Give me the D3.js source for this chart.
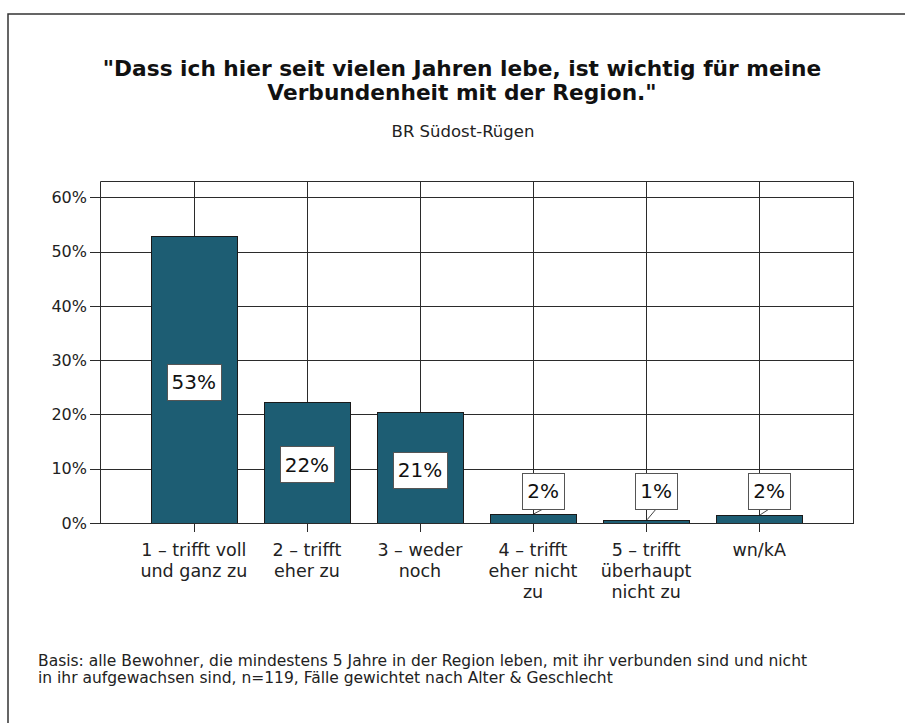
<!DOCTYPE html>
<html>
<head>
<meta charset="utf-8">
<script src="https://cdn.jsdelivr.net/npm/d3@7"></script>
<style>
  body { margin: 0; background: #fff; }
  svg { display: block; font-family: "DejaVu Sans", Lato, sans-serif; }
</style>
</head>
<body>
<svg id="chart" width="905" height="723"></svg>
<script>
// data
const categories = ["c1", "c2", "c3", "c4", "c5", "wn"];
const categoryLines = [
  ["1 – trifft voll", "und ganz zu"],
  ["2 – trifft", "eher zu"],
  ["3 – weder", "noch"],
  ["4 – trifft", "eher nicht", "zu"],
  ["5 – trifft", "überhaupt", "nicht zu"],
  ["wn/kA"]
];
const values = [0.528, 0.223, 0.204, 0.017, 0.006, 0.015];
const valueLabels = ["53%", "22%", "21%", "2%", "1%", "2%"];
const yTicks = [0, 0.1, 0.2, 0.3, 0.4, 0.5, 0.6];
const titleLines = ["\"Dass ich hier seit vielen Jahren lebe, ist wichtig für meine", "Verbundenheit mit der Region.\""];
const subtitle = "BR Südost-Rügen";
const footLines = [
  "Basis: alle Bewohner, die mindestens 5 Jahre in der Region leben, mit ihr verbunden sind und nicht",
  "in ihr aufgewachsen sind, n=119, Fälle gewichtet nach Alter & Geschlecht"
];

const svg = d3.select("#chart");
const BAR = "#1d5d73";
const LINE = "#2b2b2b";

// outer frame (runs off the right and bottom of the picture)
svg.append("rect")
  .attr("x", 8).attr("y", 14).attr("width", 1000).attr("height", 800)
  .attr("fill", "none").attr("stroke", "#333").attr("stroke-width", 1.5);

svg.append("g").selectAll("text")
  .data(titleLines).join("text")
    .attr("x", 462).attr("y", (d, i) => 76 + i * 24)
    .attr("text-anchor", "middle")
    .attr("font-size", 21.7).attr("font-weight", "bold").attr("fill", "#111")
    .text(d => d);

svg.append("text")
  .attr("x", 463).attr("y", 137)
  .attr("text-anchor", "middle").attr("font-size", 16.5).attr("fill", "#222")
  .text(subtitle);

const pLeft = 100, pRight = 853, pTop = 181, pBottom = 523;

const x = d3.scaleBand()
  .domain(categories)
  .range([pLeft, pRight])
  .paddingInner(0.24)
  .paddingOuter(0.45);

const y = d3.scaleLinear()
  .domain([0, 0.63])
  .range([pBottom, pTop]);

const plot = svg.append("g");

// grid lines
plot.append("g").selectAll("line")
  .data(yTicks).join("line")
    .attr("x1", pLeft - 10).attr("x2", pRight)
    .attr("y1", d => Math.round(y(d)) + 0.5).attr("y2", d => Math.round(y(d)) + 0.5)
    .attr("stroke", LINE);
plot.append("g").selectAll("line")
  .data(categories).join("line")
    .attr("x1", d => Math.round(x(d) + x.bandwidth() / 2) + 0.5)
    .attr("x2", d => Math.round(x(d) + x.bandwidth() / 2) + 0.5)
    .attr("y1", pTop).attr("y2", pBottom + 9)
    .attr("stroke", LINE);

// frame
plot.append("path")
  .attr("d", "M" + (pLeft + 0.5) + "," + (pBottom + 0.5) + "V" + (pTop + 0.5) + "H" + (pRight + 0.5) + "V" + (pBottom + 0.5))
  .attr("fill", "none").attr("stroke", LINE);

// y axis labels
plot.append("g").selectAll("text")
  .data(yTicks).join("text")
    .attr("x", 87).attr("y", d => y(d))
    .attr("dy", "0.36em").attr("text-anchor", "end")
    .attr("font-size", 16).attr("fill", "#222")
    .text(d => d3.format(".0%")(d));

// bars
plot.append("g").selectAll("rect")
  .data(values).join("rect")
    .attr("x", (d, i) => Math.round(x(categories[i])) + 0.5)
    .attr("y", d => Math.round(y(d)) + 0.5)
    .attr("width", Math.round(x.bandwidth()))
    .attr("height", d => Math.round(y(0)) - Math.round(y(d)))
    .attr("fill", BAR).attr("stroke", "#1a1a1a");

// baseline
plot.append("line")
  .attr("x1", pLeft).attr("x2", pRight + 1)
  .attr("y1", pBottom + 0.5).attr("y2", pBottom + 0.5)
  .attr("stroke", LINE);

// x labels
const xl = plot.append("g").selectAll("text")
  .data(categoryLines).join("text")
    .attr("x", (d, i) => x(categories[i]) + x.bandwidth() / 2)
    .attr("y", 556)
    .attr("text-anchor", "middle").attr("font-size", 17.5).attr("fill", "#222");
xl.selectAll("tspan")
  .data(d => d).join("tspan")
    .attr("x", function() { return d3.select(this.parentNode).attr("x"); })
    .attr("dy", (d, i) => i === 0 ? 0 : 21)
    .text(d => d);

// value labels
const BOX_H = 36;
const lab = plot.append("g").selectAll("g")
  .data(values).join("g");
lab.each(function(d, i) {
  const g = d3.select(this);
  const cx = x(categories[i]) + x.bandwidth() / 2;
  const small = y(0) - y(d) < BOX_H + 10;
  const bx = small ? cx + 10 : cx;
  const by = small ? y(0) - 14 - BOX_H / 2 : (y(d) + y(0)) / 2 + 2;
  if (small) {
    g.append("line")
      .attr("x1", bx).attr("y1", by + BOX_H / 2)
      .attr("x2", cx + 1).attr("y2", y(d))
      .attr("stroke", "#444");
  }
  const t = g.append("text")
    .attr("x", bx).attr("y", by)
    .attr("dy", "0.36em").attr("text-anchor", "middle")
    .attr("font-size", 20).attr("fill", "#111")
    .text(valueLabels[i]);
  const w = t.node().getComputedTextLength() + 10;
  g.insert("rect", "text")
    .attr("x", Math.round(bx - w / 2) + 0.5).attr("y", Math.round(by - BOX_H / 2) + 0.5)
    .attr("width", Math.round(w)).attr("height", BOX_H)
    .attr("fill", "#fff").attr("stroke", "#555");
});

// footnote
svg.append("g").selectAll("text")
  .data(footLines).join("text")
    .attr("x", 38).attr("y", (d, i) => 666 + i * 17)
    .attr("font-size", 15.5).attr("fill", "#222")
    .text(d => d);
</script>
</body>
</html>
